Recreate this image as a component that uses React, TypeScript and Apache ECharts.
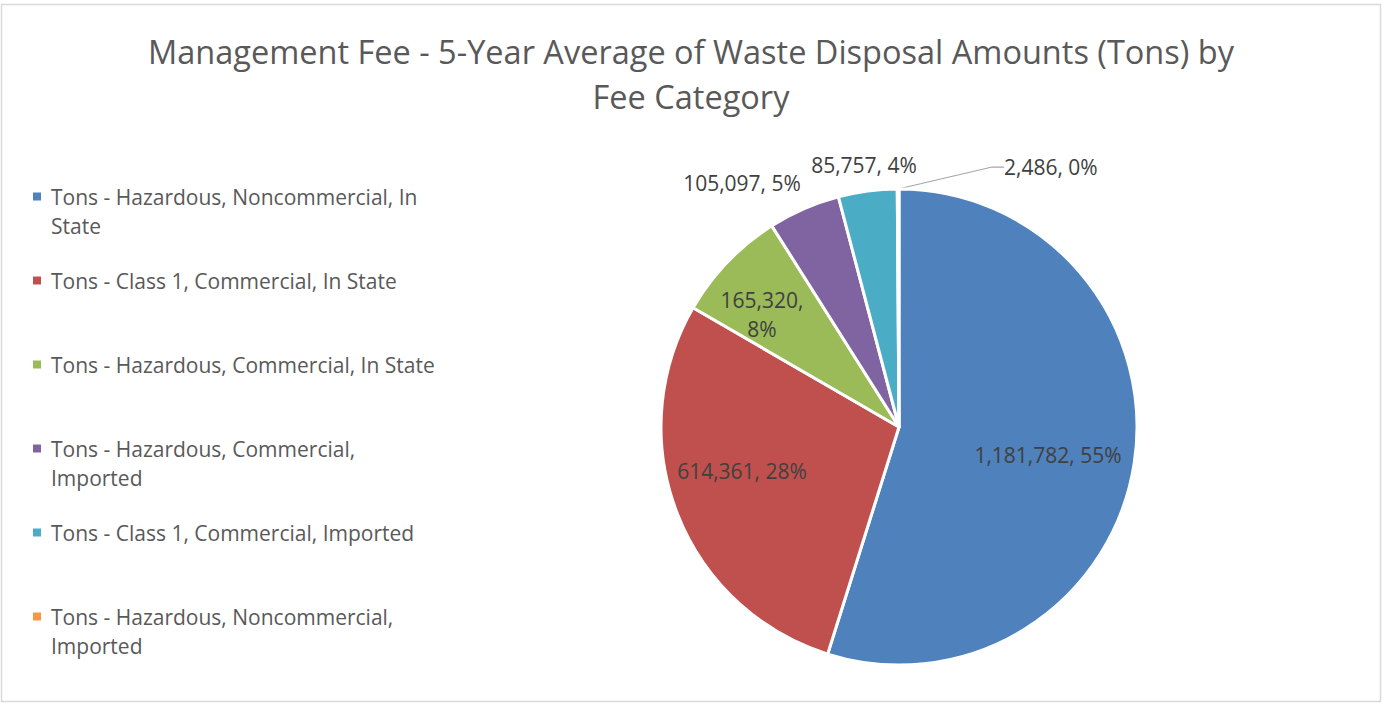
import React, { useEffect, useRef } from "react";
import * as echarts from "echarts";

const categories: string[] = [
  "Tons - Hazardous, Noncommercial, In State",
  "Tons - Class 1, Commercial, In State",
  "Tons - Hazardous, Commercial, In State",
  "Tons - Hazardous, Commercial, Imported",
  "Tons - Class 1, Commercial, Imported",
  "Tons - Hazardous, Noncommercial, Imported",
];
const values: number[] = [1181782, 614361, 165320, 105097, 85757, 2486];
const colors: string[] = ["#4F81BD", "#C0504D", "#9BBB59", "#8064A2", "#4BACC6", "#F79646"];
const legendLines: string[][] = [
  ["Tons - Hazardous, Noncommercial, In", "State"],
  ["Tons - Class 1, Commercial, In State"],
  ["Tons - Hazardous, Commercial, In State"],
  ["Tons - Hazardous, Commercial,", "Imported"],
  ["Tons - Class 1, Commercial, Imported"],
  ["Tons - Hazardous, Noncommercial,", "Imported"],
];
const titleLines: string[] = [
  "Management Fee - 5-Year Average of Waste Disposal Amounts (Tons) by",
  "Fee Category",
];

// label placement (offsets from pie centre) and alignment
const CX = 899;
const CY = 427;
const R = 238;
const labelOffsets: [number, number, string][] = [
  [149, 28, "center"],
  [-157, 44, "center"],
  [-137, -113, "center"],
  [-157, -244, "center"],
  [-35, -262, "center"],
  [105, -260, "left"],
];
const wrapLabel: boolean[] = [false, false, true, false, false, false];

const FONT = "Open Sans";

function fmt(n: number): string {
  return n.toString().replace(/\B(?=(\d{3})+(?!\d))/g, ",");
}

export default function App() {
  const ref = useRef<HTMLDivElement>(null);
  useEffect(() => {
    if (!ref.current) return;
    const chart = echarts.init(ref.current, null, { renderer: "svg" });
    const data = categories.map((name, i) => ({
      name,
      value: values[i],
      itemStyle: { color: colors[i] },
      labelLine: { show: i === 5 },
    }));
    const titleStyle = {
      fontFamily: FONT,
      fontSize: 32.5,
      fontWeight: "normal",
      color: "#595959",
    };
    chart.setOption({
      animation: false,
      backgroundColor: "#ffffff",
      title: titleLines.map((t, i) => ({
        text: t,
        left: "center",
        top: 35 + i * 45,
        padding: 0,
        textStyle: titleStyle,
      })),
      legend: {
        orient: "vertical",
        left: 33,
        top: 153,
        padding: 0,
        itemGap: -3,
        itemWidth: 8,
        itemHeight: 8,
        icon: "rect",
        itemStyle: { borderWidth: 0 },
        data: categories.map((name, i) => ({
          name,
          itemStyle: { color: colors[i], borderWidth: 0 },
        })),
        formatter: (name: string) => {
          const i = categories.indexOf(name);
          const ls = legendLines[i];
          return " \n" + ls[0] + "\n" + (ls[1] || " ");
        },
        textStyle: {
          fontFamily: FONT,
          fontSize: 21,
          color: "#595959",
          lineHeight: 29,
          padding: [0, 0, 0, 5],
        },
      },
      graphic: [
        {
          type: "rect",
          shape: { x: 1.5, y: 4.5, width: 1379, height: 697 },
          style: { fill: "none", stroke: "#D9D9D9", lineWidth: 1.5 },
          silent: true,
        },
      ],
      series: [
        {
          type: "pie",
          center: [CX, CY],
          radius: [0, R],
          startAngle: 90,
          clockwise: true,
          percentPrecision: 0,
          avoidLabelOverlap: false,
          itemStyle: { borderColor: "#ffffff", borderWidth: 3 },
          emphasis: { disabled: true },
          label: {
            show: true,
            position: "outside",
            fontFamily: FONT,
            fontSize: 21,
            color: "#404040",
            lineHeight: 29,
            formatter: (p: any) => {
              const pct = p.percent + "%";
              return fmt(p.value) + "," + (wrapLabel[p.dataIndex] ? "\n" : " ") + pct;
            },
          },
          labelLine: {
            show: false,
            length: 10,
            length2: 12,
            lineStyle: { color: "#A6A6A6", width: 1.25 },
          },
          labelLayout: (params: any) => {
            const o = labelOffsets[params.dataIndex];
            return {
              x: CX + o[0],
              y: CY + o[1],
              align: o[2],
              verticalAlign: "middle",
            };
          },
          data,
        },
      ],
    });
    return () => chart.dispose();
  }, []);
  return (
    <div
      ref={ref}
      style={{ position: "absolute", left: 0, top: 0, width: 1382, height: 703 }}
    />
  );
}
